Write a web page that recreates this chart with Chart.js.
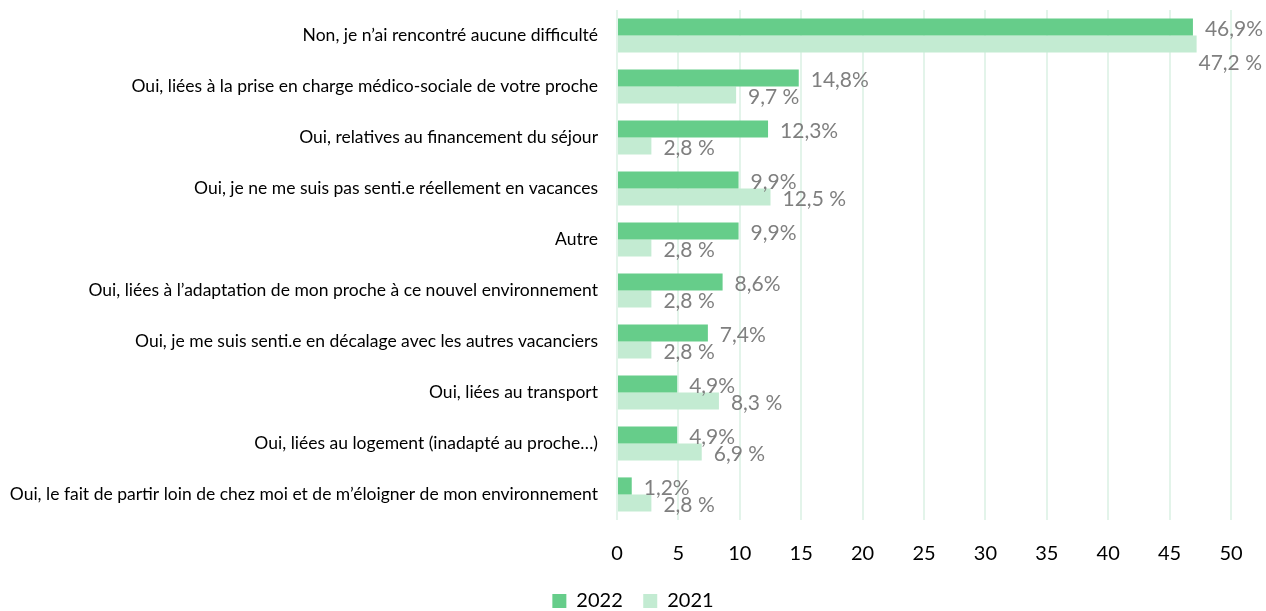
<!DOCTYPE html>
<html>
<head>
<meta charset="utf-8">
<script src="https://cdn.jsdelivr.net/npm/chart.js@4"></script>
<style>
  html, body { margin: 0; padding: 0; background: #ffffff; }
  #wrap { width: 1266px; height: 611px; }
</style>
</head>
<body>
<div id="wrap"><canvas id="difficultesChart" width="1266" height="611"></canvas></div>
<script>
const categories = [
    "Non, je n\u2019ai rencontré aucune difficulté",
    "Oui, liées à la prise en charge médico-sociale de votre proche",
    "Oui, relatives au financement du séjour",
    "Oui, je ne me suis pas senti.e réellement en vacances",
    "Autre",
    "Oui, liées à l\u2019adaptation de mon proche à ce nouvel environnement",
    "Oui, je me suis senti.e en décalage avec les autres vacanciers",
    "Oui, liées au transport",
    "Oui, liées au logement (inadapté au proche\u2026)",
    "Oui, le fait de partir loin de chez moi et de m\u2019éloigner de mon environnement"
];
const values2022 = [46.9, 14.8, 12.3, 9.9, 9.9, 8.6, 7.4, 4.9, 4.9, 1.2];
const values2021 = [47.2, 9.7, 2.8, 12.5, 2.8, 2.8, 2.8, 8.3, 6.9, 2.8];
const seriesLabels = ["2022", "2021"];
const xTicks = [0, 5, 10, 15, 20, 25, 30, 35, 40, 45, 50];

const fontName = "Lato, 'Liberation Sans', sans-serif";

// étiquettes de valeurs à droite des barres
const valueLabels = {
    id: "valueLabels",
    afterDatasetsDraw(chart) {
        const ctx = chart.ctx;
        ctx.save();
        ctx.font = "21px " + fontName;
        ctx.fillStyle = "#7f7f7f";
        ctx.textBaseline = "middle";
        chart.data.datasets.forEach((ds, di) => {
            const meta = chart.getDatasetMeta(di);
            meta.data.forEach((bar, i) => {
                let txt = ds.data[i].toFixed(1).replace(".", ",");
                txt += di === 0 ? "%" : " %";
                const w = ctx.measureText(txt).width;
                let x = bar.x + 12;
                let y = bar.y + 2;
                if (x + w > chart.width - 2) {
                    // pas de place : on descend l'étiquette
                    x = chart.width - 4 - w;
                    y = bar.y + 19;
                }
                ctx.textAlign = "left";
                ctx.fillText(txt, x, y);
            });
        });
        ctx.restore();
    }
};

const ctx = document.getElementById("difficultesChart").getContext("2d");

new Chart(ctx, {
    type: "bar",
    data: {
        labels: categories,
        datasets: [
            {
                label: seriesLabels[0],
                data: values2022,
                backgroundColor: "#66cd8a",
                barPercentage: 1.0,
                categoryPercentage: 0.67
            },
            {
                label: seriesLabels[1],
                data: values2021,
                backgroundColor: "#c3ebd2",
                barPercentage: 1.0,
                categoryPercentage: 0.67
            }
        ]
    },
    options: {
        indexAxis: "y",
        responsive: false,
        animation: false,
        layout: {
            padding: { left: 0, right: 0, top: 10, bottom: -10 }
        },
        scales: {
            x: {
                min: 0,
                max: 50,
                afterBuildTicks(scale) {
                    scale.ticks = xTicks.map(v => ({ value: v }));
                },
                afterFit(scale) {
                    scale.height = 71;
                    scale.paddingRight = 35;
                },
                grid: {
                    color: "#e3f4ea",
                    lineWidth: 2,
                    drawTicks: false
                },
                border: { display: false },
                ticks: {
                    padding: 22,
                    color: "#000000",
                    font: { family: fontName, size: 20 }
                }
            },
            y: {
                afterFit(scale) {
                    scale.width = 617;
                    scale.paddingTop = 0;
                    scale.paddingBottom = 0;
                },
                grid: { display: false, drawTicks: false },
                border: { display: false },
                ticks: {
                    padding: 19,
                    color: "#000000",
                    font: { family: fontName, size: 17.5 }
                }
            }
        },
        plugins: {
            legend: {
                position: "bottom",
                labels: {
                    boxWidth: 14,
                    boxHeight: 14,
                    padding: 0,
                    color: "#000000",
                    font: { family: fontName, size: 20 },
                    generateLabels(chart) {
                        const items = Chart.defaults.plugins.legend.labels.generateLabels(chart);
                        // espace entre les deux entrées
                        items[0].text += "    ";
                        return items;
                    }
                }
            },
            tooltip: { enabled: false }
        }
    },
    plugins: [valueLabels]
});
</script>
</body>
</html>
